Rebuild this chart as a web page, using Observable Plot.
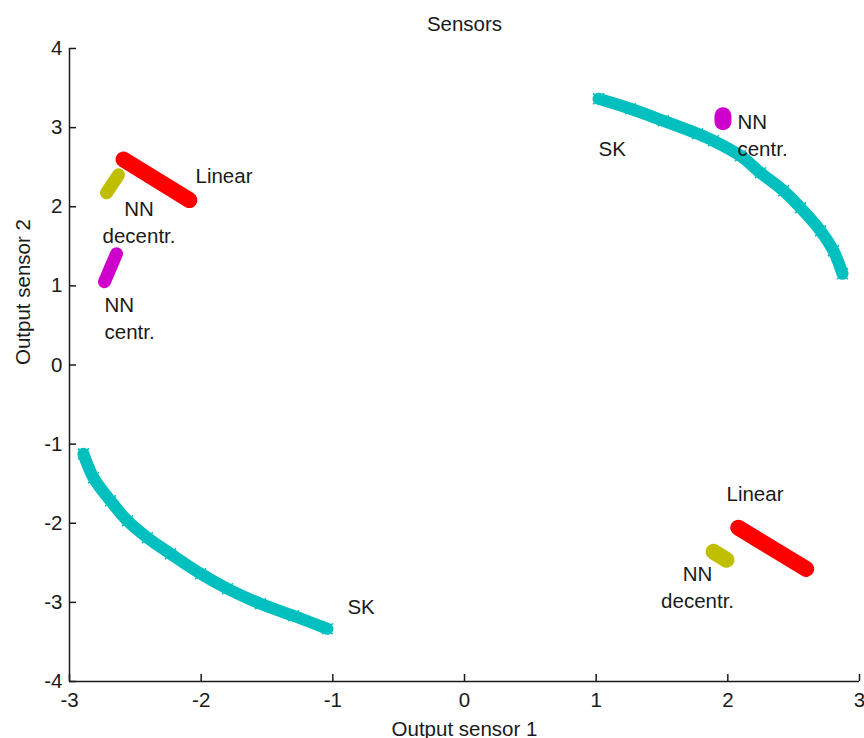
<!DOCTYPE html>
<html><head><meta charset="utf-8">
<script src="https://cdn.jsdelivr.net/npm/d3@7"></script>
<script src="https://cdn.jsdelivr.net/npm/@observablehq/plot@0.6"></script>
<style>html,body{margin:0;padding:0;background:#fff;} #chart svg{display:block;}</style>
</head><body><div id="chart"></div>
<script>
const title = "Sensors";
const xLabel = "Output sensor 1";
const yLabel = "Output sensor 2";
const xTicks = [-3, -2, -1, 0, 1, 2, 3];
const yTicks = [-4, -3, -2, -1, 0, 1, 2, 3, 4];

// SK outputs (arcs of crosses)
const skUpper = [[1.018,3.364],[1.261,3.238],[1.511,3.086],[1.770,2.922],[1.891,2.834],[2.096,2.644],[2.248,2.429],[2.423,2.202],[2.552,1.987],[2.704,1.696],[2.802,1.443],[2.871,1.153]];
const skLower = [[-2.894,-1.122],[-2.818,-1.425],[-2.689,-1.716],[-2.560,-1.969],[-2.408,-2.183],[-2.233,-2.386],[-2.005,-2.638],[-1.800,-2.828],[-1.549,-3.018],[-1.299,-3.169],[-1.041,-3.334]];
// Linear outputs
const linearA = [[-2.590,2.597],[-2.089,2.084]];
const linearB = [[2.079,-2.056],[2.595,-2.577]];
// NN decentralised outputs
const nnDecA = [[-2.628,2.404],[-2.719,2.176]];
const nnDecB = [[1.891,-2.360],[1.990,-2.462]];
// NN centralised outputs
const nnCenA = [[-2.643,1.406],[-2.734,1.052]];
const nnCenB = [[1.963,3.150],[1.963,3.074]];

// annotations: text, x, y (data coords of last baseline), anchor
const annText = ["Linear", "NN\ndecentr.", "NN\ncentr.", "SK", "NN\ncentr.", "SK", "Linear", "NN\ndecentr."];
const annX = [-2.043, -2.472, -2.734, 1.018, 2.073, -0.889, 1.990, 1.770];
const annY = [2.303, 1.548, 0.331, 2.644, 2.644, -3.144, -1.716, -3.068];
const annAnchor = ["start", "middle", "start", "start", "start", "start", "start", "middle"];
const annotations = annText.map((t, i) => ({text: t, x: annX[i], y: annY[i], anchor: annAnchor[i]}));

const cyan = "#00bfbf", red = "#ff0000", olive = "#bfbf00", magenta = "#d000cc";
const ink = "#1a1a1a";
const font = "'Liberation Sans', Arial, sans-serif";
const X = d => d[0], Y = d => d[1];
const fs = 20.5;

function band(data, color, w) {
  return Plot.line(data, {x: X, y: Y, stroke: color, strokeWidth: w, strokeLinecap: "round", strokeLinejoin: "round", curve: "catmull-rom"});
}
function ann(anchor) {
  return Plot.text(annotations.filter(d => d.anchor === anchor), {x: "x", y: "y", text: "text", textAnchor: anchor, lineAnchor: "bottom", lineHeight: 1.3, fontSize: fs, fill: ink});
}

const chart = Plot.plot({
  width: 864,
  height: 738,
  marginLeft: 69,
  marginRight: 5,
  marginTop: 48,
  marginBottom: 57,
  style: {fontFamily: font, fontSize: fs + "px", background: "#fff", color: ink},
  x: {domain: [-3, 3]},
  y: {domain: [-4, 4]},
  marks: [
    band(skUpper, cyan, 12),
    band(skLower, cyan, 12),
    Plot.dot(skUpper, {x: X, y: Y, symbol: "times", r: 5, stroke: cyan, strokeWidth: 1.5}),
    Plot.dot(skLower, {x: X, y: Y, symbol: "times", r: 5, stroke: cyan, strokeWidth: 1.5}),
    band(linearA, red, 16),
    band(linearB, red, 16),
    band(nnDecA, olive, 13),
    band(nnDecB, olive, 16),
    band(nnCenA, magenta, 13),
    band(nnCenB, magenta, 17),
    ann("start"),
    ann("middle"),
    Plot.ruleX([-3], {stroke: ink, strokeWidth: 1.5}),
    Plot.ruleY([-4], {stroke: ink, strokeWidth: 1.5}),
    Plot.axisX({ticks: xTicks, tickFormat: d => String(d), tickSize: -7, tickPadding: 18, label: null, fontSize: fs, color: ink, strokeWidth: 1.5}),
    Plot.axisY({ticks: yTicks, tickFormat: d => String(d), tickSize: -7, tickPadding: 14, label: null, fontSize: fs, color: ink, strokeWidth: 1.5}),
    Plot.text([title], {frameAnchor: "top", dy: -18, lineAnchor: "bottom", fontSize: fs, fill: ink}),
    Plot.text([xLabel], {frameAnchor: "bottom", dy: 54, lineAnchor: "bottom", fontSize: fs, fill: ink}),
    Plot.text([yLabel], {frameAnchor: "left", dx: -40, rotate: -90, lineAnchor: "bottom", fontSize: fs, fill: ink})
  ]
});
document.getElementById("chart").appendChild(chart);
</script>
</body></html>
